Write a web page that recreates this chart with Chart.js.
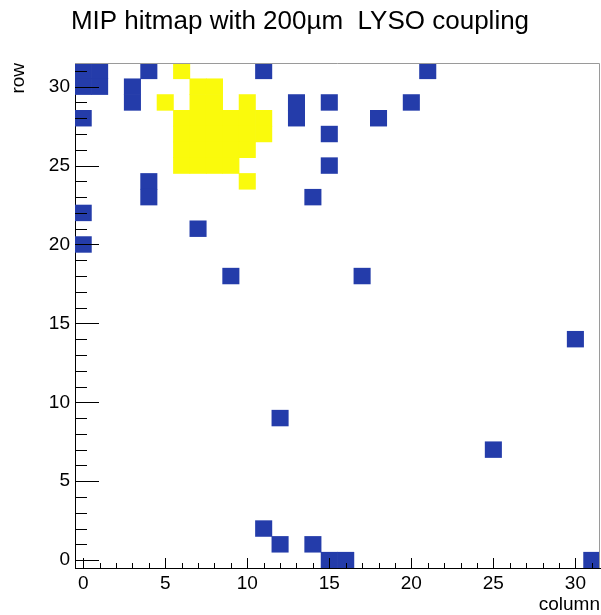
<!DOCTYPE html>
<html>
<head>
<meta charset="utf-8">
<title>MIP hitmap</title>
<script src="https://cdn.jsdelivr.net/npm/chart.js@4/dist/chart.umd.min.js"></script>
<style>
  html, body { margin: 0; padding: 0; background: #fff; }
  #wrap { width: 601px; height: 615px; }
</style>
</head>
<body>
<div id="wrap"><canvas id="hitmap" width="601" height="615"></canvas></div>
<script>
// sensor geometry: 32 x 32 pixels
const nCols = 32;
const nRows = 32;
const majorTicks = [0, 5, 10, 15, 20, 25, 30];

// hit pixels (column, row, hits)
const hitCol = [0, 1, 0, 1, 4, 11, 21, 3, 3, 13, 13, 15, 20, 0, 18, 15, 15, 4, 4, 14,
                0, 7, 0, 9, 17, 30, 12, 25, 11, 12, 14, 15, 16, 31,
                6, 7, 8, 5, 7, 8, 10,
                6, 7, 8, 9, 10, 11,
                6, 7, 8, 9, 10, 11,
                6, 7, 8, 9, 10,
                6, 7, 8, 9,
                10];
const hitRow = [31, 31, 30, 30, 31, 31, 31, 30, 29, 29, 28, 29, 29, 28, 28, 27, 25, 24, 23, 23,
                22, 21, 20, 18, 18, 14, 9, 7, 2, 1, 1, 0, 0, 0,
                31, 30, 30, 29, 29, 29, 29,
                28, 28, 28, 28, 28, 28,
                27, 27, 27, 27, 27, 27,
                26, 26, 26, 26, 26,
                25, 25, 25, 25,
                24];
const hitCount = [1, 1, 1, 1, 1, 1, 1, 1, 1, 1, 1, 1, 1, 1, 1, 1, 1, 1, 1, 1,
                  1, 1, 1, 1, 1, 1, 1, 1, 1, 1, 1, 1, 1, 1,
                  2, 2, 2, 2, 2, 2, 2,
                  2, 2, 2, 2, 2, 2,
                  2, 2, 2, 2, 2, 2,
                  2, 2, 2, 2, 2,
                  2, 2, 2, 2,
                  2];

function cellColor(n) {
  return n >= 2 ? 'rgb(250,250,12)' : 'rgb(36,60,170)';
}

const cells = hitCol.map((c, i) => ({
  x: c,
  y: [hitRow[i] - 0.5, hitRow[i] + 0.5],
  n: hitCount[i]
}));

// ROOT style frame: ticks drawn inside the pad, grey top/right frame
const insideTicks = {
  id: 'insideTicks',
  afterDatasetsDraw(chart) {
    const { ctx, chartArea: a, scales: { x, y } } = chart;
    ctx.save();
    ctx.lineWidth = 1;
    ctx.strokeStyle = '#9a9a9a';
    ctx.beginPath();
    ctx.moveTo(a.left, a.top + 0.5);
    ctx.lineTo(a.right - 0.5, a.top + 0.5);
    ctx.lineTo(a.right - 0.5, a.bottom);
    ctx.stroke();

    ctx.strokeStyle = '#000';
    ctx.beginPath();
    for (let v = 0; v < nCols; v++) {
      const px = Math.round(x.getPixelForValue(v)) + 0.5;
      const len = v % 5 === 0 ? 10 : 5;
      ctx.moveTo(px, a.bottom);
      ctx.lineTo(px, a.bottom - len);
    }
    for (let v = 0; v < nRows; v++) {
      const py = Math.round(y.getPixelForValue(v)) + 0.5;
      const len = v % 5 === 0 ? 24 : 12;
      ctx.moveTo(a.left, py);
      ctx.lineTo(a.left + len, py);
    }
    ctx.stroke();
    ctx.restore();
  }
};

const tickFont = { family: '"Liberation Sans", Arial, sans-serif', size: 19 };

new Chart(document.getElementById('hitmap'), {
  type: 'bar',
  data: {
    datasets: [{
      data: cells,
      backgroundColor: ctx => cellColor(ctx.raw ? ctx.raw.n : 1),
      borderWidth: 0,
      barPercentage: 1,
      categoryPercentage: 1,
      grouped: false
    }]
  },
  options: {
    responsive: false,
    animation: false,
    events: [],
    layout: { padding: { left: 0, right: 1, top: 0, bottom: 0 } },
    plugins: {
      legend: { display: false },
      tooltip: { enabled: false },
      title: {
        display: true,
        text: 'MIP hitmap with 200\u00b5m  LYSO coupling',
        color: '#000',
        font: { family: '"Liberation Sans", Arial, sans-serif', size: 26, weight: 'normal' },
        padding: { top: 6, bottom: 25.8 }
      }
    },
    scales: {
      x: {
        type: 'linear',
        min: -0.5,
        max: nCols - 0.5,
        offset: false,
        grid: { display: false, drawTicks: false },
        border: { display: true, color: '#000', width: 1 },
        afterBuildTicks: s => { s.ticks = majorTicks.map(v => ({ value: v })); },
        afterFit: s => { s.height = 47; },
        ticks: { font: tickFont, color: '#000', padding: 4, maxRotation: 0, autoSkip: false },
        title: {
          display: true, text: 'column', align: 'end', color: '#000',
          font: { family: '"Liberation Sans", Arial, sans-serif', size: 19, lineHeight: 1 },
          padding: { top: 0, bottom: 0.5 }
        }
      },
      y: {
        type: 'linear',
        min: -0.5,
        max: nRows - 0.5,
        grid: { display: false, drawTicks: false },
        border: { display: true, color: '#000', width: 1 },
        afterBuildTicks: s => { s.ticks = majorTicks.map(v => ({ value: v })); },
        afterFit: s => { s.width = 75; },
        ticks: { font: tickFont, color: '#000', padding: 5, autoSkip: false },
        title: {
          display: true, text: 'row', align: 'end', color: '#000',
          font: { family: '"Liberation Sans", Arial, sans-serif', size: 19 },
          padding: { top: 7.6, bottom: 0 }
        }
      }
    }
  },
  plugins: [insideTicks]
});
</script>
</body>
</html>
